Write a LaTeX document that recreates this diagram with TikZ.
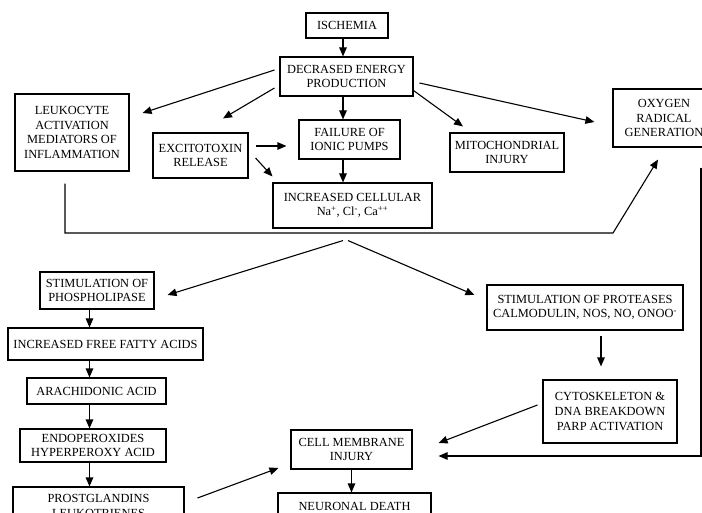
\documentclass[tikz,border=0pt]{standalone}
\usepackage{fontspec}
\setmainfont{Liberation Serif}
\usetikzlibrary{arrows.meta, calc}

\begin{document}
\begin{tikzpicture}[x=1pt, y=-1pt, line width=1.1pt,
		box/.style={draw, align=center, inner sep=2pt, font=\fontsize{12.4}{14.6}\selectfont},
		arr/.style={-{Triangle[length=9pt, width=7.5pt]}}]
	\clip (0,0) rectangle (702,513);

	\node[box, minimum width=82, minimum height=25] (isch) at (347,25.5) {ISCHEMIA};
	\node[box, minimum width=133, minimum height=39] (dec) at (346.5,76.5) {DECRASED ENERGY\\PRODUCTION};
	\node[box, minimum width=114, minimum height=77] (leuko) at (72,132.5) {LEUKOCYTE\\ACTIVATION\\MEDIATORS OF\\INFLAMMATION};
	\node[box, minimum width=95, minimum height=45] (excit) at (200.5,155.5) {EXCITOTOXIN\\RELEASE};
	\node[box, minimum width=101, minimum height=39] (fail) at (349.5,139.5) {FAILURE OF\\IONIC PUMPS};
	\node[box, minimum width=114, minimum height=39] (mito) at (507,152.5) {MITOCHONDRIAL\\INJURY};
	\node[box, minimum width=102, minimum height=58] (oxy) at (664,118) {OXYGEN\\RADICAL\\GENERATION};
	\node[box, minimum width=159, minimum height=45] (incr) at (352.5,205.5) {INCREASED CELLULAR\\Na\textsuperscript{+}, Cl\textsuperscript{-}, Ca\textsuperscript{++}};

	\node[box, minimum width=114, minimum height=37] (phos) at (97,290.5) {STIMULATION OF\\PHOSPHOLIPASE};
	\node[box, minimum width=195, minimum height=32] (ffa) at (105.5,344) {INCREASED FREE FATTY ACIDS};
	\node[box, minimum width=139, minimum height=26] (arach) at (96.5,391) {ARACHIDONIC ACID};
	\node[box, minimum width=146, minimum height=33] (endo) at (93,445.5) {ENDOPEROXIDES\\HYPERPEROXY ACID};
	\node[box, minimum width=171, minimum height=38] (prost) at (98.5,506) {PROSTGLANDINS\\LEUKOTRIENES};

	\node[box, minimum width=196, minimum height=45] (prot) at (585,307.5) {STIMULATION OF PROTEASES\\CALMODULIN, NOS, NO, ONOO\textsuperscript{-}};
	\node[box, minimum width=134, minimum height=63] (cyto) at (610,411.5) {CYTOSKELETON \&\\DNA BREAKDOWN\\PARP ACTIVATION};
	\node[box, minimum width=121, minimum height=39] (cell) at (351.5,449.5) {CELL MEMBRANE\\INJURY};
	\node[box, minimum width=153, minimum height=26] (death) at (354.5,506) {NEURONAL DEATH};

	\coordinate (tc) at (343,0);
	\coordinate (lc) at (89.5,0);
	\coordinate (bend) at (613,233);

	\draw[arr] (isch.south -| tc) -- (dec.north -| tc);
	\draw[arr] (dec.south -| tc) -- (fail.north -| tc);
	\draw[arr] (fail.south -| tc) -- (incr.north -| tc);
	\draw[arr] ([shift={(-5,-6.5)}]dec.west) -- ([shift={(13,-19.5)}]leuko.east);
	\draw[arr] ([shift={(-5,11.5)}]dec.west) -- ([shift={(22.5,-14)}]excit.north);
	\draw[arr] ([shift={(0,-6)}]dec.south east) -- ([shift={(-44,-6)}]mito.north);
	\draw[arr] ([shift={(6,6.5)}]dec.east) -- ([shift={(-18,4)}]oxy.west);
	\draw[arr] ([shift={(7,-9.5)}]excit.east) -- ([shift={(-12,6.5)}]fail.west);
	\draw[arr] ([shift={(7,2.5)}]excit.east) -- ([shift={(0,-6)}]incr.north west);

	\draw[arr] ([shift={(-7,12)}]leuko.south) |- (bend) -- ([shift={(-6,12)}]oxy.south);
	\draw[arr] ([shift={(37,20)}]oxy.south) |- ([shift={(26,6.5)}]cell.east);

	\draw[arr] ([shift={(-9.5,12)}]incr.south) -- ([shift={(13,4.5)}]phos.east);
	\draw[arr] ([shift={(-4.5,12)}]incr.south) -- ([shift={(-12,-12.5)}]prot.west);

	\draw[arr] (phos.south -| lc) -- (ffa.north -| lc);
	\draw[arr] (ffa.south -| lc) -- (arach.north -| lc);
	\draw[arr] (arach.south -| lc) -- (endo.north -| lc);
	\draw[arr] (endo.south -| lc) -- (prost.north -| lc);

	\draw[arr] ([shift={(16,5)}]prot.south) -- ([shift={(-9,-13)}]cyto.north);
	\draw[arr] ([shift={(-5,-6.5)}]cyto.west) -- ([shift={(26,-6.5)}]cell.east);
	\draw[arr] ([shift={(13,-8)}]prost.east) -- ([shift={(-12,18.5)}]cell.west);
	\draw[arr] (cell.south) -- (cell.south |- death.north);
\end{tikzpicture}
\end{document}
